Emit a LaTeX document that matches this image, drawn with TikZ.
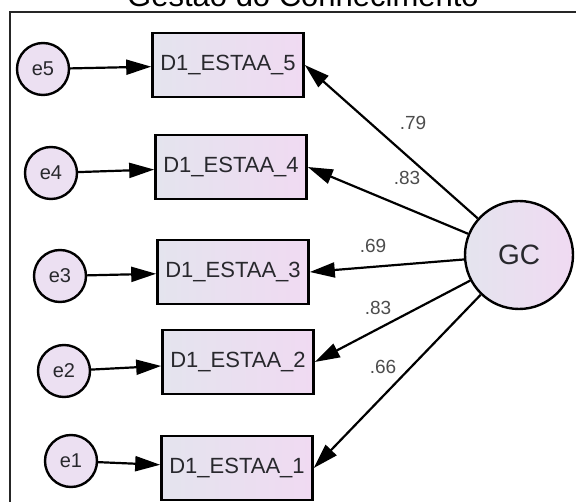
\documentclass[tikz,border=0pt]{standalone}
\usepackage{fontspec}
\setmainfont{Liberation Sans}
\usepackage{xcolor}
\usetikzlibrary{arrows.meta,positioning}

\definecolor{fillL}{RGB}{228,228,238}
\definecolor{fillR}{RGB}{240,218,242}
\definecolor{errfill}{RGB}{236,224,242}
\definecolor{txt}{RGB}{40,40,45}

\begin{document}
\begin{tikzpicture}[
  x=1pt, y=-1pt,
  errvar/.style={draw, circle, line width=2.4pt, minimum size=52pt, inner sep=0pt, fill=errfill, text=txt, font=\fontsize{20}{22}\selectfont},
  item/.style={draw, rectangle, line width=2.6pt, minimum width=151pt, minimum height=64pt, inner sep=0pt, left color=fillL, right color=fillR, text=txt, font=\fontsize{22}{25}\selectfont},
  latent/.style={draw, circle, line width=2.4pt, minimum size=108pt, inner sep=0pt, left color=fillL, right color=fillR, text=txt, font=\fontsize{28}{30}\selectfont},
  coef/.style={text=black!70, font=\fontsize{19}{21}\selectfont},
  arrow/.style={-{Triangle[length=25pt, width=15pt]}, line width=2.2pt}
]
\clip (0,0) rectangle (576,502);
\useasboundingbox (0,0) rectangle (576,502);

% title and frame
\node[anchor=base, font=\fontsize{31}{34}\selectfont] (title) at (303,7) {Gestão do Conhecimento};
\draw[line width=2pt, draw=black!85] (10,590) -- (10,12) -- (600,12);

% indicators
\node[item] (b5) at (228,65) {D1\_ESTAA\_5};
\node[item] (b4) at (231,167) {D1\_ESTAA\_4};
\node[item] (b3) at (233,272) {D1\_ESTAA\_3};
\node[item] (b2) at (238,362) {D1\_ESTAA\_2};
\node[item] (b1) at (237,468) {D1\_ESTAA\_1};

% errors
\node[errvar] (e5) at (43,69) {e5};
\node[errvar] (e4) at (51,173) {e4};
\node[errvar] (e3) at (60,276) {e3};
\node[errvar] (e2) at (64,371) {e2};
\node[errvar] (e1) at (71,461) {e1};

% factor
\node[latent] (GC) at (519,255) {GC};

\foreach \i in {1,...,5}
  \draw[arrow] (e\i) -- (b\i);

\foreach \i in {1,...,5}
  \draw[arrow] (GC) -- (b\i.east);

% loadings
\node[coef] (l5) at (413,123) {.79};
\node[coef] (l4) at (407,178) {.83};
\node[coef] (l3) at (373,246) {.69};
\node[coef] (l2) at (378,308) {.83};
\node[coef] (l1) at (383,367) {.66};
\end{tikzpicture}
\end{document}
